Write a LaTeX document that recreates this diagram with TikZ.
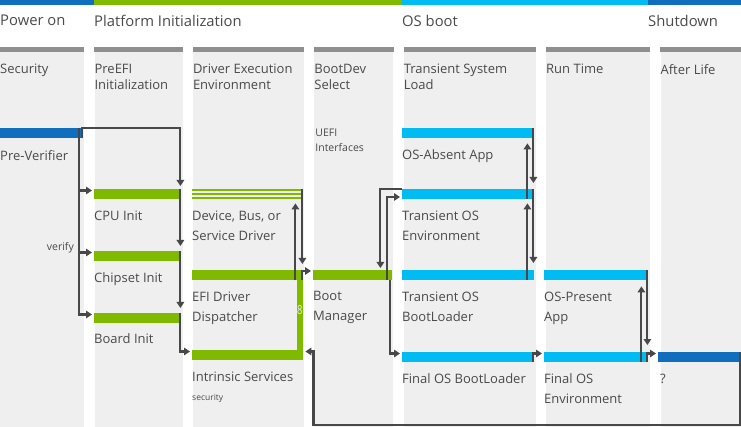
\documentclass[tikz,border=0pt]{standalone}
\usepackage{fontspec}
\setmainfont{Open Sans}
\usetikzlibrary{positioning, arrows.meta}

\definecolor{uefigreen}{HTML}{7FBA00}
\definecolor{oscyan}{HTML}{00BCF2}
\definecolor{msblue}{HTML}{106EBE}
\definecolor{hdrgray}{HTML}{8F8F8F}
\definecolor{colgray}{HTML}{EFEFEF}
\definecolor{ink}{HTML}{4A4A4A}
\definecolor{wire}{HTML}{484848}

\begin{document}
\begin{tikzpicture}[x=1pt, y=-1pt]
    % Styles
    \tikzset{
        col_bg/.style={rectangle, fill=colgray, inner sep=0pt, minimum height=380pt},
        bar/.style={rectangle, anchor=north west, inner sep=0pt, minimum height=10pt},
        greenbar/.style={bar, fill=uefigreen},
        cyanbar/.style={bar, fill=oscyan},
        bluebar/.style={bar, fill=msblue},
        phase_text/.style={anchor=north west, inner sep=0pt, font=\fontsize{14.8}{17}\selectfont, text=ink},
        col_title/.style={inner sep=0pt, align=left, font=\fontsize{13}{16}\selectfont, text=ink},
        label_text/.style={inner sep=0pt, align=left, font=\fontsize{13}{20}\selectfont, text=ink},
        small_text/.style={inner sep=0pt, align=left, font=\fontsize{10.5}{14.5}\selectfont, text=ink},
        link/.style={draw=wire, line width=2.1pt, -{Triangle[length=6pt, width=7.5pt]}}
    }

    \useasboundingbox (0,0) rectangle (741,427);

    % --- Phases ---
    \foreach \a/\b/\c in {0/94/msblue, 94/402/uefigreen, 402/648/oscyan, 648/741/msblue}
        \fill[\c] (\a,0) rectangle (\b,5);

    \node[phase_text] (ph_power) at (0,15) {Power on};
    \node[phase_text] (ph_platform) at (94,15) {Platform Initialization};
    \node[phase_text] (ph_os) at (402,15) {OS boot};
    \node[phase_text] (ph_shutdown) at (648,15) {Shutdown};

    % --- Columns ---
    \node[col_bg, anchor=north west, minimum width=84pt] (col_sec) at (0,47) {};
    \node[col_bg, right=10pt of col_sec.north east, anchor=north west, minimum width=88pt] (col_pei) {};
    \node[col_bg, right=10pt of col_pei.north east, anchor=north west, minimum width=111pt] (col_dxe) {};
    \node[col_bg, right=10pt of col_dxe.north east, anchor=north west, minimum width=79pt] (col_bds) {};
    \node[col_bg, right=10pt of col_bds.north east, anchor=north west, minimum width=132pt] (col_tsl) {};
    \node[col_bg, right=10pt of col_tsl.north east, anchor=north west, minimum width=104pt] (col_rt) {};
    \node[col_bg, right=10pt of col_rt.north east, anchor=north west, minimum width=83pt] (col_al) {};

    \foreach \c in {col_sec, col_pei, col_dxe, col_bds, col_tsl, col_rt, col_al}
        \fill[hdrgray] (\c.north west) rectangle ([yshift=-5pt]\c.north east);

    \node[col_title, below right=17pt and 0pt of col_sec.north west] (t_sec) {Security};
    \node[col_title, below right=17pt and 0pt of col_pei.north west] (t_pei) {PreEFI\\Initialization};
    \node[col_title, below right=17pt and 0pt of col_dxe.north west] (t_dxe) {Driver Execution\\Environment};
    \node[col_title, below right=17pt and 0pt of col_bds.north west] (t_bds) {BootDev\\Select};
    \node[col_title, below right=17pt and 0pt of col_tsl.north west] (t_tsl) {Transient System\\Load};
    \node[col_title, below right=17pt and 0pt of col_rt.north west] (t_rt) {Run Time};
    \node[col_title, below right=17pt and 0pt of col_al.north west] (t_al) {After Life};

    % --- Bars ---
    \node[bluebar, minimum width=83pt] (pre_verifier) at (0,128) {};

    \node[greenbar, minimum width=87pt] (cpu_init) at (94,189) {};
    \node[greenbar, minimum width=87pt] (chipset_init) at (94,251) {};
    \node[greenbar, minimum width=87pt] (board_init) at (94,313) {};

    \node[bar, minimum width=111pt] (dev_driver) at (192,189) {};
    \foreach \dy in {0,4,8}
        \fill[uefigreen] ([yshift=-\dy pt]dev_driver.north west) rectangle ++(111pt,-1.7pt);
    \node[greenbar, minimum width=111pt] (efi_disp) at (192,270) {};
    \node[greenbar, minimum width=111pt] (intr_serv) at (192,350) {};
    \fill[uefigreen] ([xshift=-6.5pt]efi_disp.north east) rectangle (intr_serv.south east);
    \node[font=\fontsize{12.5}{13}\selectfont, text=white!80!uefigreen, inner sep=0pt, xscale=0.75] (eight) at (299.8,310) {8};

    \node[greenbar, minimum width=79pt] (boot_mgr) at (313,270) {};

    \node[cyanbar, minimum width=132pt] (os_absent) at (402,128) {};
    \node[cyanbar, minimum width=132pt] (trans_env) at (402,189) {};
    \node[cyanbar, minimum width=132pt] (trans_bl) at (402,270) {};
    \node[cyanbar, minimum width=132pt] (final_bl) at (402,352) {};

    \node[cyanbar, minimum width=104pt] (os_present) at (544,270) {};
    \node[cyanbar, minimum width=104pt] (final_env) at (544,352) {};

    \node[bluebar, minimum width=83pt] (after_life) at (658,352) {};

    % --- Labels ---
    \node[label_text, below right=11.5pt and 0pt of pre_verifier.south west] (pv_text) {Pre-Verifier};
    \node[small_text, anchor=base east] (verify) at (74,251) {verify};
    \node[label_text, below right=11.5pt and 0pt of cpu_init.south west] (cpu_text) {CPU Init};
    \node[label_text, below right=11pt and 0pt of chipset_init.south west] (chipset_text) {Chipset Init};
    \node[label_text, below right=10.5pt and 0pt of board_init.south west] (board_text) {Board Init};
    \node[label_text, below right=11.5pt and 0pt of dev_driver.south west] (dev_text) {Device, Bus, or\\Service Driver};
    \node[label_text, below right=11pt and 0pt of efi_disp.south west] (efi_text) {EFI Driver\\Dispatcher};
    \node[label_text, below right=11.5pt and 0pt of intr_serv.south west] (intr_text) {Intrinsic Services};
    \node[small_text, font=\fontsize{8.5}{10}\selectfont, below right=12pt and 0pt of intr_text.south west] (sec_text) {security};
    \node[small_text, below right=82pt and 1pt of col_bds.north west] (uefi_text) {UEFI\\Interfaces};
    \node[label_text, below right=11pt and 0pt of boot_mgr.south west] (bm_text) {Boot\\Manager};
    \node[label_text, below right=11.5pt and 0pt of os_absent.south west] (oa_text) {OS-Absent App};
    \node[label_text, below right=11.5pt and 0pt of trans_env.south west] (te_text) {Transient OS\\Environment};
    \node[label_text, below right=11pt and 0pt of trans_bl.south west] (tb_text) {Transient OS\\BootLoader};
    \node[label_text, below right=11pt and 0pt of final_bl.south west] (fb_text) {Final OS BootLoader};
    \node[label_text, below right=11pt and 0pt of os_present.south west] (op_text) {OS-Present\\App};
    \node[label_text, below right=11pt and 0pt of final_env.south west] (fe_text) {Final OS\\Environment};
    \node[label_text, below right=11pt and 2pt of after_life.south west] (al_text) {?};

    % --- Connections ---

    % Security to PreEFI
    \draw[link, shorten >=2pt] ([xshift=-4pt]pre_verifier.north east) |- ([yshift=-1.5pt]cpu_init.north west);
    \draw[link, shorten >=2pt] ([xshift=-4pt]pre_verifier.north east) |- ([yshift=-1.5pt]chipset_init.north west);
    \draw[link, shorten >=2pt] ([xshift=-4pt]pre_verifier.north east) |- ([yshift=-1.5pt]board_init.north west);
    \draw[link, shorten >=3pt] ([xshift=-1pt]pre_verifier.south east) -- ([xshift=-1pt]pre_verifier.north east) -| ([xshift=-1pt]cpu_init.north east);

    % PreEFI chain
    \draw[link, shorten >=5pt] ([xshift=-1pt]cpu_init.north east) -- ([xshift=-1pt]chipset_init.north east);
    \draw[link, shorten >=5pt] ([xshift=-1pt]chipset_init.north east) -- ([xshift=-1pt]board_init.north east);
    \draw[link, shorten >=2pt] ([xshift=-1pt]board_init.north east) |- ([yshift=-1.5pt]intr_serv.north west);

    % DXE
    \draw[link, shorten >=6pt] ([xshift=-1pt]dev_driver.north east) -- ([xshift=-1pt]efi_disp.north east);
    \draw[link, shorten >=4pt] ([xshift=-8pt]efi_disp.south east) -- ([xshift=-8pt]dev_driver.south east);
    \draw[link, shorten >=2pt] ([xshift=-1pt]efi_disp.south east) |- ([yshift=-1pt]boot_mgr.north west);

    % BDS to TSL
    \draw[link, shorten >=2pt] (trans_env.north west) -| ([xshift=-12pt]boot_mgr.north east);
    \draw[link, shorten >=2pt] ([xshift=-5pt]boot_mgr.south east) |- ([yshift=-8pt]trans_env.north west);
    \draw[link, shorten >=2pt] ([xshift=-2pt]boot_mgr.south east) |- ([yshift=-1.5pt]final_bl.north west);

    % TSL
    \draw[link, shorten >=6pt] ([xshift=-1pt]os_absent.north east) -- ([xshift=-1pt]trans_env.north east);
    \draw[link, shorten >=5pt] ([xshift=-7pt]trans_env.south east) -- ([xshift=-7pt]os_absent.south east);
    \draw[link, shorten >=7pt] ([xshift=-1pt]trans_env.north east) -- ([xshift=-1pt]trans_bl.north east);
    \draw[link, shorten >=4pt] ([xshift=-7pt]trans_bl.south east) -- ([xshift=-7pt]trans_env.south east);
    \draw[link, shorten >=2pt] ([xshift=-1pt]final_bl.south east) |- ([yshift=-1.5pt]final_env.north west);

    % Run Time
    \draw[link, shorten >=7pt] ([xshift=-1pt]os_present.north east) -- ([xshift=-1pt]final_env.north east);
    \draw[link, shorten >=6pt] ([xshift=-7pt]final_env.south east) -- ([xshift=-7pt]os_present.south east);
    \draw[link, shorten >=2pt] ([xshift=-1pt]final_env.south east) |- ([yshift=-1.5pt]after_life.north west);

    % After Life back to Intrinsic Services
    \coordinate (loop_back) at (313.5,425);
    \draw[link, shorten >=2pt] ([xshift=-1pt]after_life.north east) |- (loop_back) |- ([yshift=-1.5pt]intr_serv.north east);

\end{tikzpicture}
\end{document}
